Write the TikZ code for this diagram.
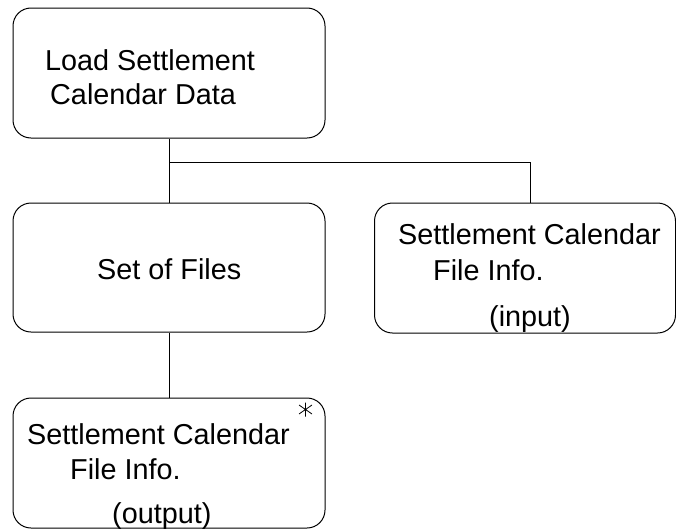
\documentclass[tikz,border=0pt]{standalone}
\usepackage{fontspec}
\setmainfont{Liberation Sans}
\usetikzlibrary{calc}
\begin{document}
\begin{tikzpicture}[x=1pt,y=-1pt,
  box/.style={draw=black,line width=1pt,rounded corners=18pt,inner sep=0pt},
  txt/.style={anchor=base west,inner sep=0pt,font=\fontsize{28.8}{28.8}\selectfont},
  conn/.style={draw=black,line width=1pt}]
\useasboundingbox (0,0) rectangle (676,530);
\node[box,minimum width=312pt,minimum height=130pt] (b1) at (169,73) {};
\node[box,minimum width=312pt,minimum height=129pt] (b2) at (169,267.5) {};
\node[box,minimum width=301pt,minimum height=130pt] (b3) at (525,268) {};
\node[box,minimum width=312pt,minimum height=130pt] (b4) at (169,463) {};
\node[txt] (t1a) at (45,70) {Load Settlement};
\node[txt] (t1b) at (50,104) {Calendar Data};
\node[txt] (t2) at (97,279) {Set of Files};
\node[txt] (t3a) at (398,244) {Settlement Calendar};
\node[txt] (t3b) at (433,280) {File Info.};
\node[txt] (t3c) at (489,326) {(input)};
\node[txt] (t4a) at (27,444) {Settlement Calendar};
\node[txt] (t4b) at (70,479) {File Info.};
\node[txt] (t4c) at (112,523) {(output)};
\coordinate (star) at (305.5,409.5);
\draw[line width=0.8pt] ($(star)+(0,-7)$) -- ($(star)+(0,7)$)
  ($(star)+(-6.5,-4.5)$) -- ($(star)+(6.5,4.5)$)
  ($(star)+(-6.5,4.5)$) -- ($(star)+(6.5,-4.5)$);
\coordinate (j) at (b1.south |- 0,162);
\draw[conn] (b1.south) -- (b2.north);
\draw[conn] (j) -| ([xshift=5pt]b3.north);
\draw[conn] (b2.south) -- (b4.north);
\end{tikzpicture}
\end{document}
